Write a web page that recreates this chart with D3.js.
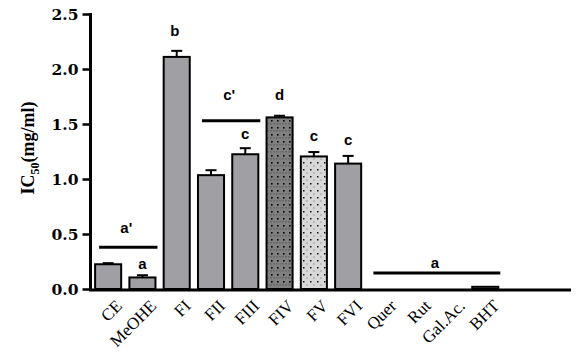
<!DOCTYPE html>
<html><head><meta charset="utf-8">
<script src="https://cdn.jsdelivr.net/npm/d3@7"></script>
<style>body{margin:0;background:#fff}svg{display:block}</style>
</head><body>
<svg id="c" width="582" height="358"></svg>
<script>
const categories = ["CE","MeOHE","FI","FII","FIII","FIV","FV","FVI","Quer","Rut","Gal.Ac.","BHT"];
const values =     [0.225, 0.105, 2.11, 1.035, 1.225, 1.56, 1.205, 1.14, 0, 0, 0, 0.02];
const errors =     [0.01, 0.02, 0.055, 0.045, 0.055, 0.015, 0.04, 0.07, 0, 0, 0, 0];
const fills =      ["plain","plain","plain","plain","plain","darkdots","lightdots","plain","plain","plain","plain","plain"];
const letters =    ["", "a", "b", "", "c", "d", "c", "c", "", "", "", ""];
const letterY =    [0, 0.18, 2.30, 0, 1.365, 1.72, 1.345, 1.31, 0, 0, 0, 0];
const groupFrom =  ["CE", "FII", "Quer"];
const groupTo =    ["MeOHE", "FIII", "BHT"];
const groupLabel = ["a'", "c'", "a"];
const groupLineY = [0.38, 1.53, 0.145];
const groupTextY = [0.51, 1.72, 0.195];
const yTicks = [0, 0.5, 1.0, 1.5, 2.0, 2.5];
const slots = 14;

const svg = d3.select("#c");
const y = d3.scaleLinear().domain([0, 2.5]).range([289, 14]);
const domainCats = categories.concat(["", " "].slice(0, slots - categories.length));
const x = d3.scaleBand().domain(domainCats).range([91, 571]).paddingInner(0.24).paddingOuter(0.12);
const bw = x.bandwidth();

const defs = svg.append("defs");
const p1 = defs.append("pattern").attr("id","darkdots").attr("patternUnits","userSpaceOnUse")
  .attr("width",6).attr("height",7);
p1.append("rect").attr("width",6).attr("height",7).attr("fill","#808080");
p1.append("rect").attr("x",1).attr("y",1).attr("width",1.6).attr("height",1.6).attr("fill","#000");
p1.append("rect").attr("x",0).attr("y",4.5).attr("width",2).attr("height",0.8).attr("fill","#555");
p1.append("rect").attr("x",3).attr("y",4.5).attr("width",2).attr("height",0.8).attr("fill","#555");
const p2 = defs.append("pattern").attr("id","lightdots").attr("patternUnits","userSpaceOnUse")
  .attr("width",7).attr("height",7);
p2.append("rect").attr("width",7).attr("height",7).attr("fill","#d8d8d8");
p2.append("rect").attr("x",2).attr("y",1).attr("width",1.5).attr("height",1.5).attr("fill","#111");
p2.append("rect").attr("x",5.5).attr("y",4.5).attr("width",1).attr("height",1).attr("fill","#666");

const fillOf = f => f === "plain" ? "#a0a0a4" : `url(#${f})`;

// error bars
const eb = svg.append("g");
categories.forEach((c, i) => {
  if (errors[i] <= 0) return;
  const cx = x(c) + bw / 2;
  eb.append("line").attr("x1",cx).attr("x2",cx).attr("y1",y(values[i])).attr("y2",y(values[i]+errors[i]))
    .attr("stroke","#000").attr("stroke-width",2);
  eb.append("line").attr("x1",cx-5.5).attr("x2",cx+5.5).attr("y1",y(values[i]+errors[i])).attr("y2",y(values[i]+errors[i]))
    .attr("stroke","#000").attr("stroke-width",2);
});

// bars
svg.append("g").selectAll("rect").data(categories.map((c,i)=>({c, v: values[i], f: fills[i]})).filter(d=>d.v>0))
  .join("rect")
  .attr("x", d => x(d.c)).attr("width", bw)
  .attr("y", d => y(d.v)).attr("height", d => y(0) - y(d.v))
  .attr("fill", d => fillOf(d.f)).attr("stroke","#000").attr("stroke-width",2);

// y axis
const ya = svg.append("g").attr("transform","translate(90.5,0)")
  .call(d3.axisLeft(y).tickValues(yTicks).tickFormat(d3.format(".1f")).tickSize(8).tickSizeOuter(0).tickPadding(4));
ya.select(".domain").attr("stroke-width",3).attr("d", `M0,${y(2.5)-1}V${y(0)+1}`);
ya.selectAll(".tick line").attr("stroke-width",2.5);
ya.selectAll(".tick text").attr("font-family","'DejaVu Serif', serif").attr("font-weight","bold")
  .attr("font-size","15.5px").attr("fill","#000").attr("dy","0.36em");

// x axis line
svg.append("line").attr("x1",89).attr("x2",571).attr("y1",y(0)+1).attr("y2",y(0)+1)
  .attr("stroke","#000").attr("stroke-width",3);

// x labels, rotated -45 degrees, anchored at their end
svg.append("g").selectAll("text").data(categories).join("text")
  .attr("transform", d => `translate(${x(d) + bw / 2 + 6},${y(0) + 9}) rotate(-45)`)
  .attr("text-anchor", "end")
  .attr("dy", "0.75em")
  .attr("font-family", "'Liberation Serif','Times New Roman',serif")
  .attr("font-size", "17px").attr("fill", "#000")
  .text(d => d);

// letters over bars
const lg = svg.append("g").attr("font-family","Arial, 'Liberation Sans', sans-serif")
  .attr("font-weight","bold").attr("font-size","15px").attr("text-anchor","middle");
categories.forEach((c,i) => {
  if (!letters[i]) return;
  lg.append("text").attr("x", x(c)+bw/2 - (c==="FI"?2:0)).attr("y", y(letterY[i])).text(letters[i]);
});

// group lines
groupLabel.forEach((g,i) => {
  const x1 = x(groupFrom[i]) + 4, x2 = x(groupTo[i]) + bw + 2;
  svg.append("line").attr("x1",x1).attr("x2",x2).attr("y1",y(groupLineY[i])).attr("y2",y(groupLineY[i]))
    .attr("stroke","#000").attr("stroke-width",3);
  lg.append("text").attr("x",(x1+x2)/2 - 2).attr("y",y(groupTextY[i])).text(g);
});

// y title
const t = svg.append("text").attr("transform","translate(34,148) rotate(-90)")
  .attr("text-anchor","middle").attr("font-family","'Liberation Serif','Times New Roman',serif")
  .attr("font-weight","bold").attr("font-size","18px").attr("fill","#000");
t.append("tspan").text("IC");
t.append("tspan").attr("font-size","12px").attr("dy","5").text("50");
t.append("tspan").attr("dy","-5").text("(mg/ml)");
</script>
</body></html>
